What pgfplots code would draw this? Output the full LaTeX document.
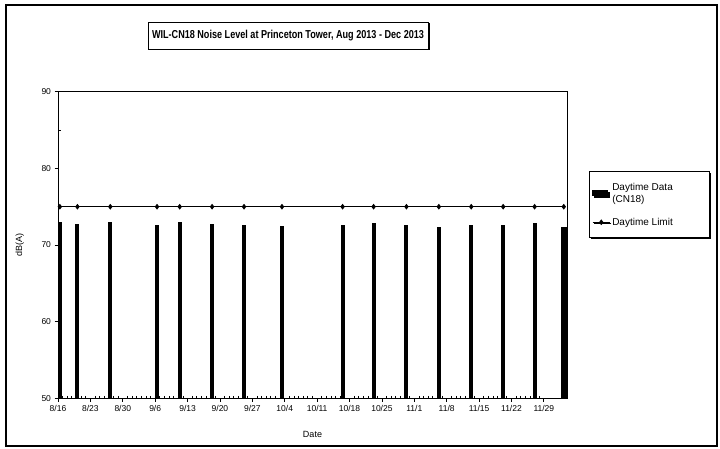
\documentclass[border=0pt]{standalone}
\usepackage{pgfplots}
\pgfplotsset{compat=1.18}
\usepackage{fontspec}
\setmainfont{Liberation Sans}
\usetikzlibrary{shadows}
\begin{document}
\begin{tikzpicture}[x=1pt,y=1pt]
\useasboundingbox (0,0) rectangle (720,448);
\draw[line width=1.2pt] (6,2) rectangle (717,443);
\node[draw, line width=0.8pt, fill=white,
      drop shadow={shadow xshift=1.5pt, shadow yshift=-1.5pt, fill=black, opacity=1},
      minimum width=280pt, minimum height=27pt,
      font=\bfseries\fontsize{11.5}{13}\selectfont] at (288,412.5)
      {\scalebox{0.79}[1]{WIL-CN18 Noise Level at Princeton Tower, Aug 2013 - Dec 2013}};
\begin{axis}[
  at={(58pt,49.6pt)}, anchor=south west,
  scale only axis, width=509pt, height=306.7pt,
  xmin=0, xmax=110, ymin=50, ymax=90,
  xtick={0,7,...,105},
  xticklabels={8/16,8/23,8/30,9/6,9/13,9/20,9/27,10/4,10/11,10/18,10/25,11/1,11/8,11/15,11/22,11/29},
  minor x tick num=6,
  ytick={50,60,70,80,90}, minor y tick num=1,
  xtick pos=left, ytick pos=left,
  tick align=outside, major tick length=3.5pt, minor tick length=-2.5pt,
  axis line style={line width=1pt},
  tick style={line width=0.8pt, black},
  /pgf/number format/assume math mode=true,
  ticklabel style={font=\fontsize{8.5}{10}\selectfont},
  xlabel={Date}, ylabel={dB(A)},
  label style={font=\fontsize{9}{10}\selectfont},
  xlabel style={at={(axis description cs:0.5,-0.119)}, anchor=center},
  ylabel style={at={(axis description cs:-0.075,0.5)}, anchor=center},
  legend cell align=left,
  legend style={at={(1.043,0.74)}, anchor=north west, draw=black, line width=0.8pt, fill=white,
     drop shadow={shadow xshift=1.5pt, shadow yshift=-1.5pt, fill=black, opacity=1},
     font=\fontsize{10}{12}\selectfont, inner xsep=3pt, inner ysep=9pt, row sep=10pt},
]
\addplot[ybar, bar width=3pt, fill=black, draw=black, line width=0pt,
  legend image code/.code={\fill[black] (0pt,-2.5pt) rectangle (15pt,2.5pt);}]
  coordinates {(0.4,73.0) (4.2,72.7) (11.3,72.9) (21.4,72.6) (26.3,73.0) (33.3,72.7)
  (40.2,72.5) (48.4,72.4) (61.5,72.5) (68.2,72.8) (75.3,72.6) (82.3,72.3)
  (89.3,72.5) (96.2,72.6) (103.0,72.8)};
\addlegendentry{\makebox[92pt][l]{\shortstack[l]{Daytime Data\\(CN18)}}}
\addplot[black, line width=0.9pt, mark=diamond*, mark size=2.2pt]
  coordinates {(0.4,75) (4.2,75) (11.3,75) (21.4,75) (26.3,75) (33.3,75)
  (40.2,75) (48.4,75) (61.5,75) (68.2,75) (75.3,75) (82.3,75)
  (89.3,75) (96.2,75) (103.0,75) (109.3,75)};
\addlegendentry{\makebox[92pt][l]{Daytime Limit}}
\addplot[ybar, bar width=5pt, fill=black, draw=black, line width=0pt, forget plot]
  coordinates {(109.4,72.3)};
\end{axis}
\end{tikzpicture}
\end{document}
